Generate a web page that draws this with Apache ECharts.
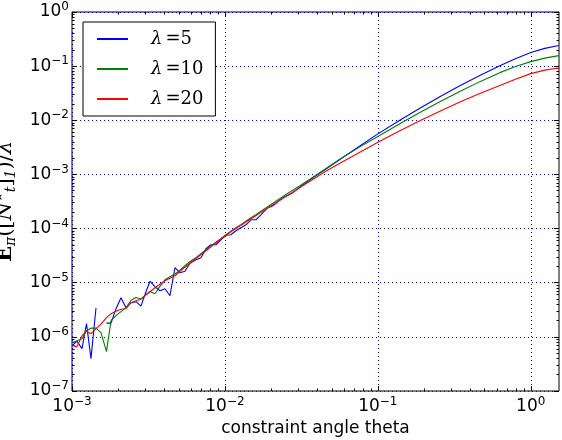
<!DOCTYPE html>
<html>
<head>
<meta charset="utf-8">
<script src="https://cdn.jsdelivr.net/npm/echarts@6/dist/echarts.min.js"></script>
<style>
  html, body { margin: 0; padding: 0; background: #fff; }
  #chart { width: 562px; height: 440px; }
</style>
</head>
<body>
<div id="chart"></div>
<script>
// constraint angle theta (x)
const theta = [0.001, 0.001078, 0.001163, 0.001244, 0.001331, 0.001435, 0.001547, 0.001681, 0.001799, 0.00194,
  0.002091, 0.002255, 0.002431, 0.002621, 0.002825, 0.003046, 0.003235, 0.003487, 0.00376, 0.004054,
  0.004371, 0.004712, 0.005081, 0.005478, 0.005906, 0.006465, 0.006971, 0.007515, 0.008102, 0.008736,
  0.009417, 0.01015, 0.01094, 0.0118, 0.01272, 0.01372, 0.01479, 0.01594, 0.01719, 0.01882,
  0.0206, 0.02254, 0.02467, 0.02741, 0.03092, 0.03594, 0.04505, 0.05644, 0.07626, 0.1,
  0.1392, 0.1882, 0.2542, 0.3436, 0.4642, 0.6273, 0.7863, 1.0, 1.235, 1.524]

// E_pi([N_t*]_1)/lambda for each lambda (null = no value on log scale)
const lam5 = [6.88e-7, 8.26e-7, 6.06e-7, 1.752e-6, 3.96e-7, 3.41e-6, null, 1.79e-6, 1.79e-6, 3.313e-6,
  5.287e-6, 3.457e-6, 4.276e-6, 4.461e-6, 3.684e-6, 6.823e-6, 1.066e-5, 8.44e-6, 7.118e-6, 7.75e-6,
  5.756e-6, 1.891e-5, 1.529e-5, 1.63e-5, 2.29e-5, 2.657e-5, 2.892e-5, 4.24e-5, 5.025e-5, 5.025e-5,
  6.214e-5, 7.52e-5, 7.685e-5, 9.108e-5, 1.035e-4, 1.175e-4, 1.453e-4, 1.453e-4, 1.797e-4, 2.368e-4,
  2.634e-4, 3.257e-4, 3.861e-4, 4.48e-4, 5.781e-4, 7.95e-4, 1.221e-3, 1.883e-3, 3.342e-3, 5.612e-3,
  1.0e-2, 1.665e-2, 2.714e-2, 4.33e-2, 6.736e-2, 0.1013, 0.1358, 0.1782, 0.213, 0.2399]
const lam10 = [7.82e-7, 8.51e-7, 9.26e-7, 1.301e-6, 1.447e-6, 1.447e-6, 1.195e-6, 5.33e-7, 1.99e-6, 2.461e-6,
  2.917e-6, 3.457e-6, 4.754e-6, 5.355e-6, 5.004e-6, 6.006e-6, 6.911e-6, 6.266e-6, 8.545e-6, 1.136e-5,
  1.29e-5, 1.447e-5, 1.701e-5, 2.059e-5, 2.472e-5, 2.892e-5, 3.428e-5, 4.063e-5, 4.816e-5, 5.587e-5,
  6.483e-5, 7.685e-5, 8.917e-5, 1.035e-4, 1.175e-4, 1.364e-4, 1.582e-4, 1.797e-4, 2.086e-4, 2.472e-4,
  2.93e-4, 3.471e-4, 4.115e-4, 4.982e-4, 6.162e-4, 8.121e-4, 1.247e-3, 1.916e-3, 3.23e-3, 5.004e-3,
  8.617e-3, 1.387e-2, 2.194e-2, 3.414e-2, 5.176e-2, 7.589e-2, 9.727e-2, 0.1211, 0.1405, 0.1562]
const lam20 = [6.88e-7, 6.595e-7, 1.052e-6, 1.274e-6, 1.146e-6, 1.417e-6, 1.715e-6, 2.261e-6, 2.679e-6, 2.98e-6,
  3.244e-6, 3.313e-6, 4.276e-6, 4.655e-6, 4.962e-6, 6.006e-6, 6.823e-6, 8.086e-6, 9.383e-6, 1.089e-5,
  1.211e-5, 1.346e-5, 1.63e-5, 1.932e-5, 2.309e-5, 2.796e-5, 3.299e-5, 3.894e-5, 4.615e-5, 5.47e-5,
  6.483e-5, 7.55e-5, 8.73e-5, 1.0e-4, 1.146e-4, 1.318e-4, 1.516e-4, 1.73e-4, 1.99e-4, 2.348e-4,
  2.761e-4, 3.244e-4, 3.813e-4, 4.596e-4, 5.707e-4, 7.459e-4, 1.117e-3, 1.602e-3, 2.578e-3, 3.944e-3,
  6.401e-3, 9.79e-3, 1.472e-2, 2.175e-2, 3.135e-2, 4.404e-2, 5.683e-2, 7.271e-2, 8.44e-2, 9.265e-2]

const seriesNames = ['λ=5', 'λ=10', 'λ=20']
const seriesColors = ['#0000ff', '#008000', '#ff0000']

// axis ranges and decade tick values
const xMin = 0.001, xMax = 1.53
const yMin = 1e-7, yMax = 1
const xMajor = [0.001, 0.01, 0.1, 1]
const yMajor = [1e-7, 1e-6, 1e-5, 1e-4, 1e-3, 1e-2, 1e-1, 1]

// log minor ticks at 2..9 of each decade
function minorTicks(major, max) {
  const out = []
  major.forEach(d => {
    for (let k = 2; k <= 9; k++) {
      const v = d * k
      if (v < max) out.push(v)
    }
  })
  return out
}
const xMinor = minorTicks(xMajor, xMax)
const yMinor = minorTicks(yMajor, yMax)

const tickRich = {
  b: { fontSize: 17, fontFamily: 'DejaVu Sans', color: '#000', lineHeight: 22 },
  s: { fontSize: 12, fontFamily: 'DejaVu Sans', color: '#000', lineHeight: 11, verticalAlign: 'top' }
}
function powLabel(v) {
  const e = Math.round(Math.log10(v))
  return '{b|10}{s|' + (e < 0 ? '\u2212' + (-e) : e) + '}'
}

const gridLine = { show: true, lineStyle: { color: '#0000ff', width: 1, type: [1, 3] } }

function logAxis(gridIndex, position, min, max, ticks, len, extra) {
  return Object.assign({
    type: 'log',
    gridIndex: gridIndex,
    position: position,
    min: min,
    max: max,
    axisLine: { show: false },
    axisTick: { show: true, inside: true, length: len, customValues: ticks, lineStyle: { color: '#000', width: 1 } },
    axisLabel: { show: false },
    splitLine: { show: false }
  }, extra || {})
}

function pairs(values) {
  return theta.map((t, i) => [t, values[i] == null ? '-' : values[i]])
}

const chart = echarts.init(document.getElementById('chart'), null, { renderer: 'canvas' })

const gridBox = { left: 72, right: 3, top: 12, bottom: 49, outerBoundsMode: 'none' }

const serif = 'DejaVu Serif'

const option = {
  animation: false,
  backgroundColor: '#fff',
  grid: [
    Object.assign({ show: true, borderColor: '#000', borderWidth: 1, backgroundColor: 'transparent' }, gridBox),
    Object.assign({ show: false }, gridBox)
  ],
  legend: {
    orient: 'vertical',
    left: 83,
    top: 22,
    padding: [8, 12, 8, 14],
    itemGap: 12,
    itemWidth: 31,
    itemHeight: 2,
    icon: 'rect',
    backgroundColor: '#fff',
    borderColor: '#000',
    borderWidth: 1,
    borderRadius: 0,
    selectedMode: false,
    data: seriesNames,
    formatter: name => '{l|λ}{e|=}{d|' + name.split('=')[1] + '}',
    textStyle: {
      rich: {
        l: { fontFamily: serif, fontStyle: 'italic', fontSize: 18, color: '#000', lineHeight: 20, padding: [0, 3, 0, 18] },
        e: { fontFamily: serif, fontSize: 18, color: '#000', lineHeight: 20 },
        d: { fontFamily: serif, fontSize: 18, color: '#000', lineHeight: 20 }
      }
    }
  },
  xAxis: [
    logAxis(0, 'bottom', xMin, xMax, xMajor, 5, {
      axisLabel: { show: true, customValues: xMajor, formatter: powLabel, margin: 5, rich: tickRich },
      splitLine: gridLine,
      name: 'constraint angle theta',
      nameLocation: 'middle',
      nameGap: 29,
      nameTextStyle: { fontFamily: 'DejaVu Sans', fontSize: 17, color: '#000' }
    }),
    logAxis(0, 'top', xMin, xMax, xMajor, 5),
    logAxis(1, 'bottom', xMin, xMax, xMinor, 2.5),
    logAxis(1, 'top', xMin, xMax, xMinor, 2.5)
  ],
  yAxis: [
    logAxis(0, 'left', yMin, yMax, yMajor, 5, {
      axisLabel: { show: true, customValues: yMajor, formatter: powLabel, margin: 3, rich: tickRich },
      splitLine: gridLine,
      name: '{E|E}{sub|π}{p|([}{N|N}{up|★}{sub|t}{p|]}{sub|1}{p|)/}{N|λ}',
      nameLocation: 'middle',
      nameRotate: 90,
      nameGap: 35,
      nameTextStyle: {
        color: '#000',
        fontFamily: serif,
        fontSize: 21,
        rich: {
          E: { fontFamily: serif, fontWeight: 'bold', fontSize: 21, lineHeight: 27, color: '#000' },
          p: { fontFamily: serif, fontSize: 21, lineHeight: 27, color: '#000' },
          N: { fontFamily: serif, fontStyle: 'italic', fontSize: 21, lineHeight: 27, color: '#000' },
          sub: { fontFamily: serif, fontStyle: 'italic', fontSize: 14, lineHeight: 12, verticalAlign: 'bottom', color: '#000' },
          up: { fontFamily: 'DejaVu Sans', fontSize: 11, lineHeight: 12, padding: [0, 0, 12, 0], color: '#000' }
        }
      }
    }),
    logAxis(0, 'right', yMin, yMax, yMajor, 5),
    logAxis(1, 'left', yMin, yMax, yMinor, 2.5),
    logAxis(1, 'right', yMin, yMax, yMinor, 2.5)
  ],
  series: [lam5, lam10, lam20].map((vals, i) => ({
    name: seriesNames[i],
    type: 'line',
    xAxisIndex: 0,
    yAxisIndex: 0,
    data: pairs(vals),
    symbol: 'none',
    connectNulls: false,
    color: seriesColors[i],
    lineStyle: { color: seriesColors[i], width: 1.1 },
    z: 3 + i
  }))
}

chart.setOption(option)
</script>
</body>
</html>
